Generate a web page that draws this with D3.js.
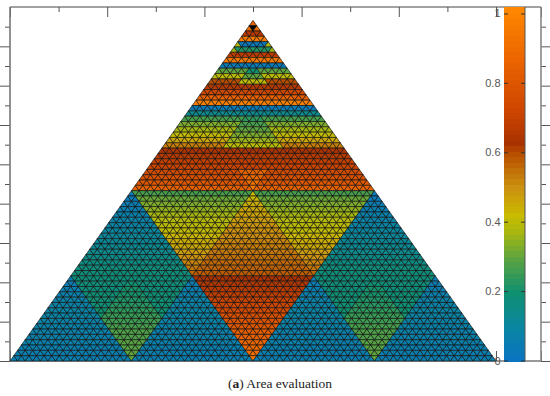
<!DOCTYPE html>
<html>
<head>
<meta charset="utf-8">
<script src="https://cdn.jsdelivr.net/npm/d3@7"></script>
<style>
  body { margin: 0; background: #fff; }
  svg { display: block; }
</style>
</head>
<body>
<div id="chart"></div>
<script>
// Colormap
const colorStops = [0, 0.1, 0.2, 0.3, 0.38, 0.42, 0.5, 0.6, 0.63, 0.72, 0.85, 1.02];
const colorValues = ["#0a72c4", "#0a86a0", "#0f9070", "#5ea43e", "#aeb80c", "#c8bc00", "#cc9210", "#b84e00", "#a83200", "#cc4400", "#e86000", "#ff8800"];

// Axis ticks
const xMajorTicks = [0, 0.2, 0.4, 0.6, 0.8, 1];
const xMinorTicks = [0.1, 0.3, 0.5, 0.7, 0.9];
const yMajorTicks = [0, 0.1, 0.2, 0.3, 0.4, 0.5, 0.6, 0.7, 0.8];
const yMinorTicks = [0.05, 0.15, 0.25, 0.35, 0.45, 0.55, 0.65, 0.75, 0.85];
const colorbarTicks = [0, 0.2, 0.4, 0.6, 0.8, 1];

// Cell values, one entry per mesh row
const apexRows = [0.85, 0.9, 0.66, 0.95];
const apexCore = [0.25];
const band4Sides = [0.38, 0.36];
const band4Core = [0.03, 0.22];
const band6Rows = [0.68, 0.95];
const band8Sides = [0.04, 0.3, 0.4, 0.6];
const band8Core = [0.04, 0.2, 0.3, 0.4];
const band12Rows = [0.66, 0.74, 0.85, 0.98];
const band16Sides = [0.04, 0.14, 0.27, 0.33, 0.37, 0.41, 0.46, 0.53];
const band16Core = [0.04, 0.14, 0.24, 0.27, 0.3, 0.33, 0.36, 0.4];
const band24Sides = [0.64, 0.67, 0.7, 0.72, 0.75, 0.78, 0.81, 0.85];
const band28Core = [0.86, 0.89, 0.92, 0.96];
const midWings = [0.27, 0.31, 0.33, 0.35, 0.37, 0.39, 0.4, 0.41, 0.43, 0.45, 0.46, 0.48, 0.5, 0.52, 0.54, 0.56];
const midCore = [0.42, 0.43, 0.45, 0.46, 0.47, 0.48, 0.49, 0.5, 0.51, 0.52, 0.53, 0.54, 0.55, 0.56, 0.57, 0.58];
const lowCore = [0.63, 0.65, 0.67, 0.69, 0.71, 0.73, 0.75, 0.77, 0.79, 0.81, 0.83, 0.85, 0.87, 0.89, 0.91, 0.93];
const sidePeak = [0.03, 0.04, 0.05, 0.06, 0.07, 0.08, 0.09, 0.1, 0.11, 0.12, 0.13, 0.14, 0.15, 0.16, 0.17, 0.18];
const sideWings = [0.18, 0.18, 0.18, 0.19, 0.19, 0.19, 0.2, 0.2];
const sideDiamondTop = [0.19, 0.2, 0.21, 0.21, 0.22, 0.23, 0.24, 0.25];
const sideDiamondLow = [0.26, 0.27, 0.28, 0.28, 0.29, 0.29, 0.3, 0.3];
const sideCorners = [0.05, 0.05, 0.06, 0.07, 0.08, 0.08, 0.09, 0.09, 0.08, 0.08, 0.07, 0.07, 0.07, 0.06, 0.06, 0.06];

const width = 550, height = 396;
const plot = {left: 10, right: 541, top: 7, bottom: 361};
const cbar = {left: 504, right: 525};
const rows = 64;

const svg = d3.select("#chart").append("svg").attr("width", width).attr("height", height);

// Scales, data units as in the original plot
const xScale = d3.scaleLinear().domain([0, 1.0926]).range([plot.left, plot.right]);
const yScale = d3.scaleLinear().domain([0, 0.9]).range([plot.bottom, plot.top]);
const cScale = d3.scaleLinear().domain([0, 1.02]).range([plot.bottom, plot.top]);
const color = d3.scaleLinear().domain(colorStops).range(colorValues).clamp(true);

// Mesh lattice: u runs 0..64 along the base, r is the row from the apex
const latticeX = u => xScale(u / rows);
const latticeY = r => yScale((rows - r) / rows * Math.sqrt(3) / 2);

// Zones are tested in order, each one also mirrored about the middle
const zones = [
  {first: 0, values: apexCore, corners: [[31, 1], [33, 1], [32, 2]]},
  {first: 0, values: apexRows, corners: [[28, 4], [36, 4], [32, 0]]},
  {first: 4, values: band4Core, corners: [[30.5, 4], [33.5, 4], [34.5, 6], [29.5, 6]]},
  {first: 4, values: band4Sides, corners: [[30, 4], [34, 4], [35, 6], [29, 6]]},
  {first: 6, values: band6Rows, corners: [[29, 6], [35, 6], [36, 8], [28, 8]]},
  {first: 8, values: band8Core, corners: [[30, 12], [34, 12], [32, 8]]},
  {first: 8, values: band8Sides, corners: [[28, 8], [36, 8], [38, 12], [26, 12]]},
  {first: 12, values: band12Rows, corners: [[26, 12], [38, 12], [40, 16], [24, 16]]},
  {first: 16, values: band16Core, corners: [[28, 24], [36, 24], [32, 16]]},
  {first: 16, values: band16Sides, corners: [[24, 16], [40, 16], [44, 24], [20, 24]]},
  {first: 28, values: band28Core, corners: [[30, 28], [34, 28], [32, 32]]},
  {first: 24, values: band24Sides, corners: [[20, 24], [44, 24], [48, 32], [16, 32]]},
  {first: 48, values: lowCore, corners: [[24, 48], [40, 48], [32, 64]]},
  {first: 32, values: midCore, corners: [[24, 48], [40, 48], [32, 32]]},
  {first: 32, values: midWings, corners: [[16, 32], [32, 32], [24, 48]]},
  {first: 32, values: sidePeak, corners: [[8, 48], [24, 48], [16, 32]]},
  {first: 48, values: sideDiamondTop, corners: [[12, 56], [20, 56], [16, 48]]},
  {first: 56, values: sideDiamondLow, corners: [[12, 56], [20, 56], [16, 64]]},
  {first: 48, values: sideWings, corners: [[8, 48], [16, 48], [12, 56]]},
  {first: 48, values: sideWings, corners: [[16, 48], [24, 48], [20, 56]]},
  {first: 48, values: sideCorners, corners: [[0, 64], [8, 48], [16, 64]]},
  {first: 48, values: sideCorners, corners: [[16, 64], [24, 48], [32, 64]]}
];

function cellValue(u, r) {
  const zone = zones.find(z => d3.polygonContains(z.corners, [u, r]) || d3.polygonContains(z.corners, [rows - u, r]));
  return zone.values[Math.floor(r) - zone.first];
}

// Build the triangles of the mesh
const cells = [];
d3.range(rows).forEach(r => {
  const left = rows / 2 - r / 2;
  d3.range(r + 1).forEach(i => {
    const up = [[left + i, r], [left + i - 0.5, r + 1], [left + i + 0.5, r + 1]];
    cells.push({pts: up, value: cellValue(left + i, r + 2 / 3)});
    if (i < r) {
      const down = [[left + i, r], [left + i + 1, r], [left + i + 0.5, r + 1]];
      cells.push({pts: down, value: cellValue(left + i + 0.5, r + 1 / 3)});
    }
  });
});

const line = d3.line().x(d => latticeX(d[0])).y(d => latticeY(d[1]));

// Axes sit under the mesh
function drawAxis(axis, major, minor, transform) {
  [[major, 10], [minor, 5]].forEach(([ticks, size]) => {
    const g = svg.append("g").attr("transform", transform)
      .call(axis.tickValues(ticks).tickSize(-size).tickFormat(""));
    g.select(".domain").remove();
    g.selectAll("line").attr("stroke", "#555").attr("stroke-width", 1);
  });
}
drawAxis(d3.axisTop(xScale), xMajorTicks.concat(1.0926), xMinorTicks, `translate(0,${plot.top})`);
drawAxis(d3.axisBottom(xScale), xMajorTicks.concat(1.0926), xMinorTicks, `translate(0,${plot.bottom})`);
drawAxis(d3.axisRight(yScale), yMajorTicks, yMinorTicks, `translate(${plot.left},0)`);
drawAxis(d3.axisLeft(yScale), yMajorTicks, yMinorTicks, `translate(${plot.right},0)`);

// Frame
svg.append("line").attr("x1", plot.left).attr("x2", plot.right).attr("y1", plot.top).attr("y2", plot.top).attr("stroke", "#444").attr("stroke-width", 1);
svg.append("line").attr("x1", plot.left).attr("x2", plot.right).attr("y1", plot.bottom).attr("y2", plot.bottom).attr("stroke", "#333").attr("stroke-width", 1);
svg.append("line").attr("x1", plot.left).attr("x2", plot.left).attr("y1", plot.top).attr("y2", plot.bottom).attr("stroke", "#777").attr("stroke-width", 1.6);
svg.append("line").attr("x1", plot.right).attr("x2", plot.right).attr("y1", plot.top).attr("y2", plot.bottom).attr("stroke", "#888").attr("stroke-width", 1.6);

// Mesh
svg.append("g").selectAll("path")
  .data(cells)
  .enter()
  .append("path")
  .attr("d", d => line(d.pts) + "Z")
  .attr("fill", d => color(d.value))
  .attr("stroke", "#111")
  .attr("stroke-width", 0.65)
  .attr("stroke-linejoin", "round");

// Colorbar
const cbarSteps = 64;
svg.append("g").attr("shape-rendering", "crispEdges").selectAll("rect")
  .data(d3.range(cbarSteps))
  .enter()
  .append("rect")
  .attr("x", cbar.left)
  .attr("width", cbar.right - cbar.left)
  .attr("y", d => cScale((d + 1) / cbarSteps * 1.02))
  .attr("height", d => cScale(d / cbarSteps * 1.02) - cScale((d + 1) / cbarSteps * 1.02) + 1)
  .attr("fill", d => color((d + 0.5) / cbarSteps * 1.02));

svg.append("line").attr("x1", cbar.right).attr("x2", cbar.right).attr("y1", plot.top).attr("y2", plot.bottom).attr("stroke", "#555").attr("stroke-width", 1);

svg.append("g").selectAll("line")
  .data(colorbarTicks)
  .enter()
  .append("g")
  .each(function(d) {
    d3.select(this).append("line").attr("x1", cbar.left).attr("x2", cbar.left + 4).attr("y1", cScale(d)).attr("y2", cScale(d)).attr("stroke", "#333");
    d3.select(this).append("line").attr("x1", cbar.right - 4).attr("x2", cbar.right).attr("y1", cScale(d)).attr("y2", cScale(d)).attr("stroke", "#333");
  });

svg.append("g").selectAll("text")
  .data(colorbarTicks)
  .enter()
  .append("text")
  .attr("x", cbar.left - 3.5)
  .attr("y", d => cScale(d) + 3.5)
  .attr("text-anchor", "end")
  .attr("font-family", "Liberation Sans, Arial, sans-serif")
  .attr("font-size", 11)
  .attr("fill", "#555")
  .text(d => d);

// Caption
const caption = svg.append("text")
  .attr("x", 280)
  .attr("y", 388)
  .attr("text-anchor", "middle")
  .attr("font-family", "Liberation Serif, serif")
  .attr("font-size", 13.5)
  .attr("fill", "#222");
caption.append("tspan").text("(");
caption.append("tspan").attr("font-weight", "bold").text("a");
caption.append("tspan").text(") Area evaluation");
</script>
</body>
</html>
